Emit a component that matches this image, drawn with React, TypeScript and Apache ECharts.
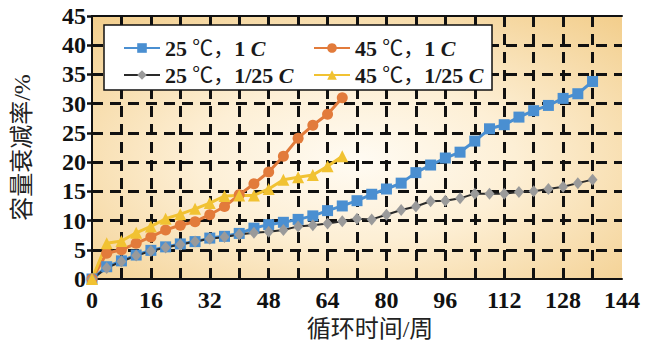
import React, { useEffect, useRef } from "react";
import * as echarts from "echarts";

const weeksLong = [0, 4, 8, 12, 16, 20, 24, 28, 32, 36, 40, 44, 48, 52, 56, 60, 64, 68, 72, 76, 80, 84, 88, 92, 96, 100, 104, 108, 112, 116, 120, 124, 128, 132, 136];
const weeksShort = [0, 4, 8, 12, 16, 20, 24, 28, 32, 36, 40, 44, 48, 52, 56, 60, 64, 68];

const fade25_1C = [0, 2.1, 3.1, 4.1, 4.9, 5.5, 6.0, 6.4, 7.0, 7.3, 7.8, 8.7, 9.3, 9.7, 10.2, 10.8, 11.7, 12.5, 13.4, 14.5, 15.4, 16.4, 18.2, 19.5, 20.7, 21.7, 23.6, 25.7, 26.4, 27.7, 28.8, 29.7, 30.9, 31.7, 33.8];
const fade45_1C = [0, 4.4, 5.0, 6.1, 7.2, 8.4, 9.2, 9.8, 11.0, 12.4, 14.4, 16.3, 18.3, 21.0, 24.1, 26.3, 28.2, 31.0];
const fade25_1_25C = [0, 1.9, 3.0, 4.0, 4.8, 5.4, 5.9, 6.4, 6.9, 7.2, 7.6, 7.9, 8.1, 8.4, 9.0, 9.2, 9.5, 9.9, 10.3, 10.2, 11.0, 11.8, 12.4, 13.3, 13.4, 13.8, 14.6, 14.6, 14.6, 14.9, 15.0, 15.4, 15.8, 16.4, 17.0];
const fade45_1_25C = [0, 6.1, 6.5, 7.9, 9.0, 10.3, 11.1, 12.0, 13.0, 14.2, 14.3, 14.3, 15.4, 17.0, 17.4, 17.8, 19.3, 21.0];

const seriesNames = ["25 ℃，1 C", "45 ℃，1 C", "25 ℃，1/25 C", "45 ℃，1/25 C"];
const xLabelTicks = [0, 16, 32, 48, 64, 80, 96, 112, 128, 144];
const xAxisName = "循环时间/周";
const yAxisName = "容量衰减率/%";

const SERIF = "'Liberation Serif', 'Times New Roman', 'DejaVu Serif', serif";
const CJK = "'Liberation Serif', 'Noto Sans CJK SC', serif";

function pairs(xs: number[], ys: number[]) {
  return xs.map((x, i) => [x, ys[i]]);
}

function legendFormatter(name: string) {
  const [t, r] = name.split(" ℃，");
  const rate = r.replace(" C", "");
  return `{b|${t}}{n| ℃，}{b|${rate}}{i| C}`;
}

const richStyles = {
  b: { fontFamily: SERIF, fontWeight: "bold", fontSize: 22, color: "#1a1a1a", lineHeight: 24 },
  n: { fontFamily: CJK, fontWeight: "normal", fontSize: 21, color: "#1a1a1a", lineHeight: 24 },
  i: { fontFamily: SERIF, fontWeight: "bold", fontStyle: "italic", fontSize: 22, color: "#1a1a1a", lineHeight: 24 },
};

export default function App() {
  const ref = useRef<HTMLDivElement>(null);
  useEffect(() => {
    if (!ref.current) return;
    const chart = echarts.init(ref.current, undefined, { renderer: "svg" });
    const gridLine = { show: true, lineStyle: { color: "#111", width: 3, type: [11, 7] as any } };
    const legendCommon = {
      orient: "vertical" as const,
      top: 32,
      itemGap: 5,
      itemWidth: 36,
      itemHeight: 12,
      z: 20,
      formatter: legendFormatter,
      textStyle: { rich: richStyles },
    };
    chart.setOption({
      animation: false,
      backgroundColor: "#ffffff",
      grid: {
        left: 92,
        right: 25,
        top: 16,
        bottom: 70,
        show: true,
        borderWidth: 0,
        backgroundColor: new echarts.graphic.RadialGradient(0.5, 0.55, 0.75, [
          { offset: 0, color: "#fffbf3" },
          { offset: 0.4, color: "#fdefd5" },
          { offset: 1, color: "#f2cd8a" },
        ]),
      },
      xAxis: [
        {
          type: "value",
          min: 0,
          max: 144,
          interval: 8,
          name: xAxisName,
          nameLocation: "middle",
          nameGap: 38,
          nameTextStyle: { fontFamily: CJK, fontSize: 24, color: "#222", padding: [0, 0, 0, 26] },
          axisLine: { show: true, lineStyle: { color: "#111", width: 2 } },
          axisTick: { show: false },
          axisLabel: {
            margin: 9,
            fontFamily: SERIF,
            fontWeight: "bold",
            fontSize: 24,
            color: "#111",
            formatter: (v: number) => (xLabelTicks.includes(v) ? String(v) : ""),
          },
          splitLine: { ...gridLine, showMaxLine: false, showMinLine: false },
        },
        {
          type: "value",
          position: "top",
          min: 0,
          max: 144,
          interval: 8,
          axisLine: { show: true, lineStyle: { color: "#111", width: 2 } },
          axisTick: { show: false },
          axisLabel: { show: false },
          splitLine: { show: false },
        },
      ],
      yAxis: {
        type: "value",
        min: 0,
        max: 45,
        interval: 5,
        name: yAxisName,
        nameLocation: "middle",
        nameGap: 58,
        nameTextStyle: { fontFamily: CJK, fontSize: 24, color: "#222" },
        axisLine: { show: true, lineStyle: { color: "#111", width: 2 } },
        axisTick: { show: true, inside: false, length: 5, lineStyle: { color: "#111", width: 2.5 } },
        axisLabel: { margin: 6, fontFamily: SERIF, fontWeight: "bold", fontSize: 24, color: "#111" },
        splitLine: { ...gridLine, showMaxLine: false, showMinLine: false },
      },
      legend: [
        { ...legendCommon, left: 118, data: [seriesNames[0], seriesNames[2]] },
        { ...legendCommon, left: 308, data: [seriesNames[1], seriesNames[3]] },
      ],
      graphic: [
        {
          type: "rect",
          z: 10,
          shape: { x: 104, y: 25, width: 388, height: 65 },
          style: { fill: "#ffffff", stroke: "#111", lineWidth: 1.5 },
        },
      ],
      series: [
        {
          name: seriesNames[0],
          type: "line",
          data: pairs(weeksLong, fade25_1C),
          symbol: "rect",
          symbolSize: 11,
          itemStyle: { color: "#4a8fd1" },
          lineStyle: { color: "#4a8fd1", width: 3 },
        },
        {
          name: seriesNames[1],
          type: "line",
          data: pairs(weeksShort, fade45_1C),
          symbol: "circle",
          symbolSize: 11,
          itemStyle: { color: "#e27b3b" },
          lineStyle: { color: "#e27b3b", width: 3 },
        },
        {
          name: seriesNames[2],
          type: "line",
          data: pairs(weeksLong, fade25_1_25C),
          symbol: "diamond",
          symbolSize: [10, 12],
          itemStyle: { color: "#9a9a9a" },
          lineStyle: { color: "#2a2a2a", width: 2 },
        },
        {
          name: seriesNames[3],
          type: "line",
          data: pairs(weeksShort, fade45_1_25C),
          symbol: "triangle",
          symbolSize: 12,
          itemStyle: { color: "#f1c232" },
          lineStyle: { color: "#f1c232", width: 3 },
        },
      ],
    });
    return () => chart.dispose();
  }, []);
  return (
    <div
      ref={ref}
      style={{ position: "fixed", left: 0, top: 0, width: 647, height: 349 }}
    />
  );
}
